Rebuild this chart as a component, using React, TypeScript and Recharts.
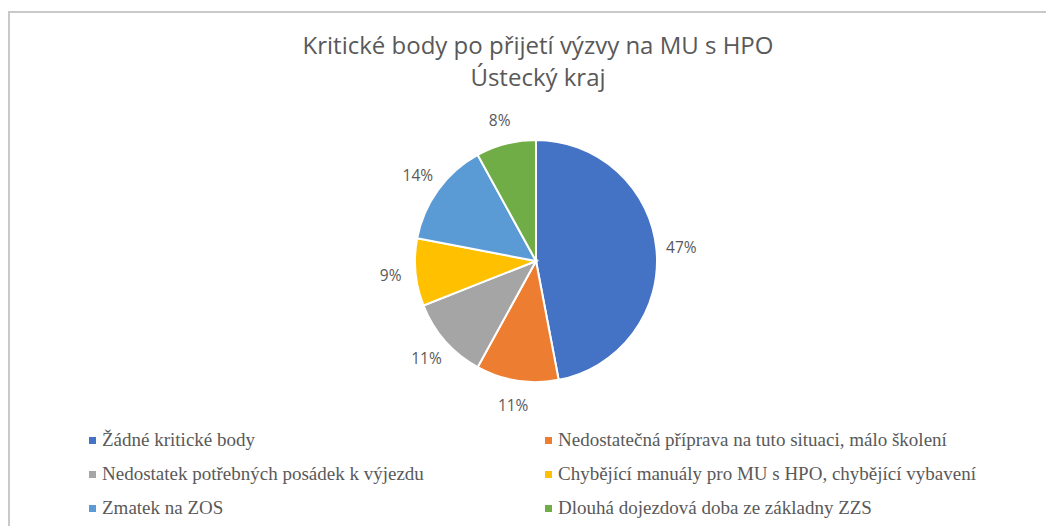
import { Cell, Pie, PieChart } from "recharts";

const categories = [
  "Žádné kritické body",
  "Nedostatečná příprava na tuto situaci, málo školení",
  "Nedostatek potřebných posádek k výjezdu",
  "Chybějící manuály pro MU s HPO, chybějící vybavení",
  "Zmatek na ZOS",
  "Dlouhá dojezdová doba ze základny ZZS",
];

const shares = [47, 11, 11, 9, 14, 8];

const colors = ["#4472C4", "#ED7D31", "#A5A5A5", "#FFC000", "#5B9BD5", "#70AD47"];

const titleLines = ["Kritické body po přijetí výzvy na MU s HPO", "Ústecký kraj"];

const data = categories.map((name, i) => ({ name, value: shares[i] }));

const RADIAN = Math.PI / 180;
const LABEL_FONT = "'Open Sans', 'Noto Sans', sans-serif";

function renderLabel(props: any) {
  const { cx, cy, midAngle, outerRadius, value } = props;
  const r = outerRadius + 25;
  const x = cx + r * Math.cos(-midAngle * RADIAN);
  const y = cy + r * Math.sin(-midAngle * RADIAN);
  return (
    <text
      x={x}
      y={y}
      fill="#595959"
      fontSize={15.5}
      fontFamily={LABEL_FONT}
      textAnchor="middle"
      dominantBaseline="central"
    >
      {`${value}%`}
    </text>
  );
}

export default function App() {
  return (
    <div
      style={{
        position: "relative",
        top: 3,
        width: 1044,
        height: 516,
        borderTop: "2px solid #c9c9c9",
        borderLeft: "2px solid #c9c9c9",
        background: "#fff",
        overflow: "hidden",
      }}
    >
      <div
        style={{
          position: "absolute",
          top: 16,
          left: 0,
          width: 1056,
          textAlign: "center",
          fontFamily: LABEL_FONT,
          fontSize: 24,
          lineHeight: "32px",
          color: "#595959",
        }}
      >
        {titleLines.map((t) => (
          <div key={t}>{t}</div>
        ))}
      </div>
      <PieChart width={1044} height={516} margin={{ top: 0, right: 0, bottom: 0, left: 0 }}>
        <Pie
          data={data}
          dataKey="value"
          nameKey="name"
          cx={526}
          cy={248}
          outerRadius={121}
          startAngle={90}
          endAngle={-270}
          stroke="#fff"
          strokeWidth={2}
          label={renderLabel}
          labelLine={false}
          isAnimationActive={false}
        >
          {data.map((d, i) => (
            <Cell key={d.name} fill={colors[i]} />
          ))}
        </Pie>
      </PieChart>
      {categories.map((name, i) => (
        <div
          key={name}
          style={{
            position: "absolute",
            left: i % 2 === 0 ? 79 : 535,
            top: 427 + Math.floor(i / 2) * 34 - 12,
            height: 24,
            display: "flex",
            alignItems: "center",
            fontFamily: "'Liberation Serif', 'DejaVu Serif', serif",
            fontSize: 19,
            color: "#595959",
            whiteSpace: "nowrap",
          }}
        >
          <span
            style={{
              display: "inline-block",
              width: 7,
              height: 7,
              background: colors[i],
              marginRight: 6,
            }}
          />
          {name}
        </div>
      ))}
    </div>
  );
}
